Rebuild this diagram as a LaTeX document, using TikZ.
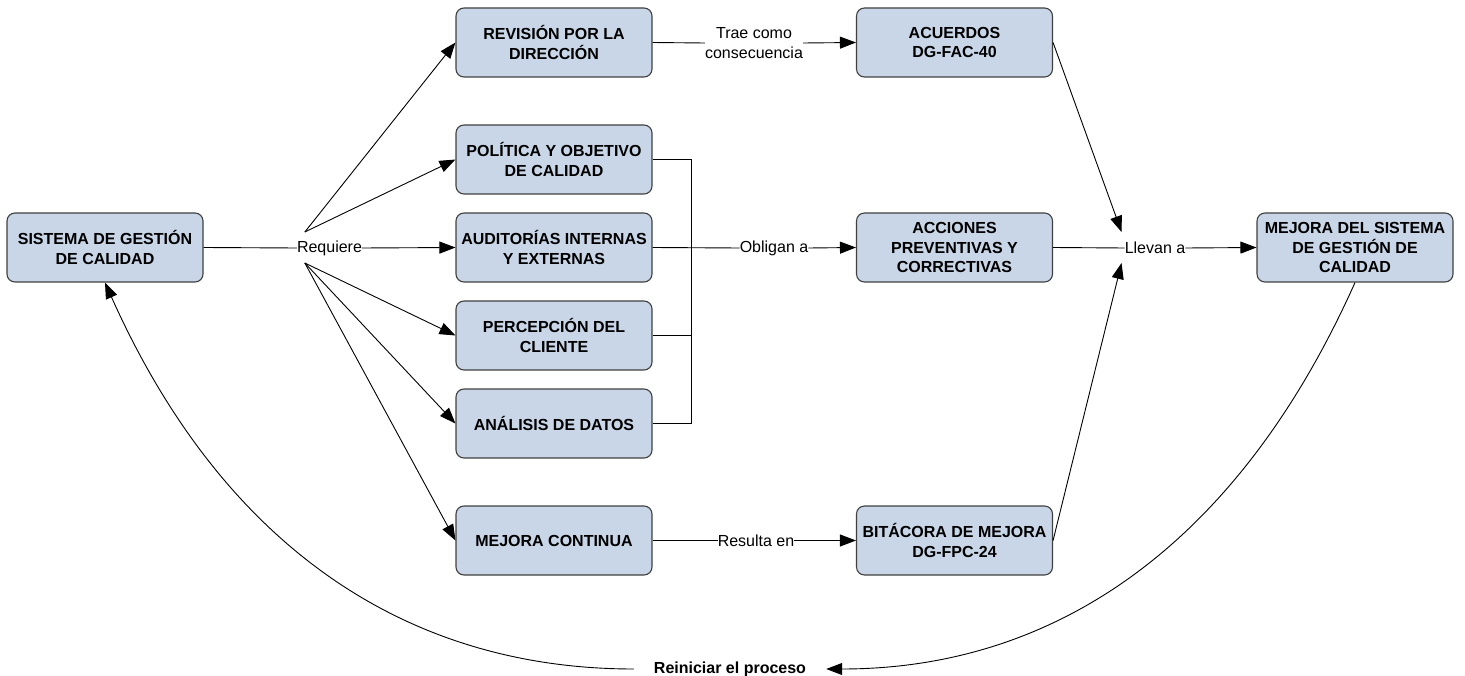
\documentclass[tikz,border=0pt]{standalone}
\usepackage{fontspec}
\setmainfont{Liberation Sans}
\usetikzlibrary{arrows.meta,calc}
\definecolor{boxfill}{HTML}{C8D6E7}
\definecolor{boxline}{HTML}{404040}
\begin{document}
\begin{tikzpicture}[x=1pt,y=-1pt,
 box/.style={draw=boxline,fill=boxfill,line width=1.1pt,rounded corners=8pt,minimum width=196pt,minimum height=69pt,align=center,font=\bfseries\fontsize{16pt}{19.5pt}\selectfont,inner sep=2pt},
 lbl/.style={font=\fontsize{16pt}{19.5pt}\selectfont,inner sep=0pt,align=center},
 conn/.style={line width=0.9pt,draw=black},
 arr/.style={conn,-{Triangle[length=16pt,width=12pt]}}]
\useasboundingbox (0,0) rectangle (1465,676);

% boxes
\node[box] (sgc) at (105,247.5) {SISTEMA DE GESTIÓN\\DE CALIDAD};
\node[box] (rev) at (554,42.5) {REVISIÓN POR LA\\DIRECCIÓN};
\node[box] (pol) at (554,159.5) {POLÍTICA Y OBJETIVO\\DE CALIDAD};
\node[box] (aud) at (554,247.5) {AUDITORÍAS INTERNAS\\Y EXTERNAS};
\node[box] (per) at (554,335.5) {PERCEPCIÓN DEL\\CLIENTE};
\node[box] (ana) at (554,423.5) {ANÁLISIS DE DATOS};
\node[box] (mc) at (554,540.5) {MEJORA CONTINUA};
\node[box] (acu) at (954.5,42.5) {ACUERDOS\\DG-FAC-40};
\node[box] (acc) at (954.5,247.5) {ACCIONES\\PREVENTIVAS Y\\CORRECTIVAS};
\node[box] (bit) at (954.5,540.5) {BITÁCORA DE MEJORA\\DG-FPC-24};
\node[box] (mds) at (1355,247.5) {MEJORA DEL SISTEMA\\DE GESTIÓN DE\\CALIDAD};

% labels
\node[lbl] (req) at (329.5,248) {Requiere};
\node[lbl] (trae) at (754,43) {Trae como\\consecuencia};
\node[lbl] (obl) at (774,248) {Obligan a};
\node[lbl] (llev) at (1155,248) {Llevan a};
\node[lbl] (res) at (756,540.5) {Resulta en};
\node[lbl,font=\bfseries\fontsize{16pt}{19.5pt}\selectfont,inner xsep=20pt] (rein) at (730,669) {Reiniciar el proceso};

\coordinate (reqt) at ($(req.west)+(8,-16)$);
\coordinate (reqb) at ($(req.west)+(8,15)$);
\coordinate (llt) at ($(llev.west)+(-3,-16)$);
\coordinate (llb) at ($(llev.west)+(-3,15)$);
\coordinate (brk) at (691,300);

% connectors
\draw[conn] (sgc.east) -- (req.west);
\draw[arr] (req.east) -- (aud.west);
\draw[arr] (reqt) -- (rev.west);
\draw[arr] (reqt) -- (pol.west);
\draw[arr] (reqb) -- (per.west);
\draw[arr] (reqb) -- (ana.west);
\draw[arr] (reqb) -- (mc.west);

\draw[conn] (rev.east) -- (trae.west);
\draw[arr] (trae.east) -- (acu.west);

\draw[conn] (pol.east) -- (pol.east -| brk) -- (ana.east -| brk) -- (ana.east);
\draw[conn] (per.east) -- (per.east -| brk);
\draw[conn] (aud.east) -- (obl.west);
\draw[arr] (obl.east) -- (acc.west);

\draw[conn] (mc.east) -- (res.west);
\draw[arr] (res.east) -- (bit.west);

\draw[arr] (acu.east) -- (llt);
\draw[arr] (bit.east) -- (llb);
\draw[conn] (acc.east) -- (llev.west);
\draw[arr] (llev.east) -- (mds.west);

\draw[arr] (mds.south) .. controls (1240,540) and (1060,669) .. (rein.east);
\draw[arr] (rein.west) .. controls (400,669) and (220,540) .. (sgc.south);
\end{tikzpicture}
\end{document}
